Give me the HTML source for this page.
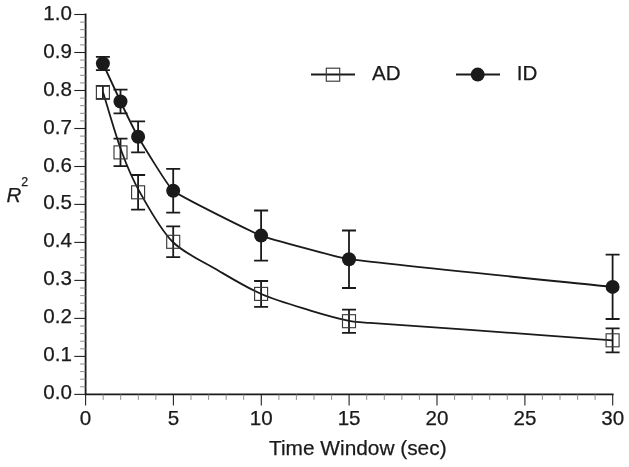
<!DOCTYPE html>
<html><head><meta charset="utf-8"><title>R2 vs Time Window</title>
<style>html,body{margin:0;padding:0;background:#fff}svg{display:block}text{font-family:"Liberation Sans",Arial,Helvetica,sans-serif;fill:#1a1a1a;stroke:#1a1a1a;stroke-width:0.25px}</style></head><body>
<svg width="629" height="467" viewBox="0 0 629 467">
<rect width="629" height="467" fill="#fff"/>
<g stroke="#1a1a1a" stroke-width="1.8" fill="none">
<path d="M85.6 13.6V394.4H613.6"/>
</g>
<g stroke="#222" stroke-width="1.1">
<line x1="74.3" y1="394.4" x2="85.6" y2="394.4"/>
<line x1="74.3" y1="356.4" x2="85.6" y2="356.4"/>
<line x1="74.3" y1="318.4" x2="85.6" y2="318.4"/>
<line x1="74.3" y1="280.4" x2="85.6" y2="280.4"/>
<line x1="74.3" y1="242.4" x2="85.6" y2="242.4"/>
<line x1="74.3" y1="204.4" x2="85.6" y2="204.4"/>
<line x1="74.3" y1="166.5" x2="85.6" y2="166.5"/>
<line x1="74.3" y1="128.5" x2="85.6" y2="128.5"/>
<line x1="74.3" y1="90.5" x2="85.6" y2="90.5"/>
<line x1="74.3" y1="52.5" x2="85.6" y2="52.5"/>
<line x1="74.3" y1="14.5" x2="85.6" y2="14.5"/>
<line x1="85.6" y1="394.4" x2="85.6" y2="405.6"/>
<line x1="173.4" y1="394.4" x2="173.4" y2="405.6"/>
<line x1="261.3" y1="394.4" x2="261.3" y2="405.6"/>
<line x1="349.1" y1="394.4" x2="349.1" y2="405.6"/>
<line x1="437.0" y1="394.4" x2="437.0" y2="405.6"/>
<line x1="524.9" y1="394.4" x2="524.9" y2="405.6"/>
<line x1="612.7" y1="394.4" x2="612.7" y2="405.6"/>
</g>
<g stroke="#808080" stroke-width="0.9">
<line x1="80.1" y1="386.8" x2="85.6" y2="386.8"/>
<line x1="80.1" y1="379.2" x2="85.6" y2="379.2"/>
<line x1="80.1" y1="371.6" x2="85.6" y2="371.6"/>
<line x1="80.1" y1="364.0" x2="85.6" y2="364.0"/>
<line x1="80.1" y1="348.8" x2="85.6" y2="348.8"/>
<line x1="80.1" y1="341.2" x2="85.6" y2="341.2"/>
<line x1="80.1" y1="333.6" x2="85.6" y2="333.6"/>
<line x1="80.1" y1="326.0" x2="85.6" y2="326.0"/>
<line x1="80.1" y1="310.8" x2="85.6" y2="310.8"/>
<line x1="80.1" y1="303.2" x2="85.6" y2="303.2"/>
<line x1="80.1" y1="295.6" x2="85.6" y2="295.6"/>
<line x1="80.1" y1="288.0" x2="85.6" y2="288.0"/>
<line x1="80.1" y1="272.8" x2="85.6" y2="272.8"/>
<line x1="80.1" y1="265.2" x2="85.6" y2="265.2"/>
<line x1="80.1" y1="257.6" x2="85.6" y2="257.6"/>
<line x1="80.1" y1="250.0" x2="85.6" y2="250.0"/>
<line x1="80.1" y1="234.8" x2="85.6" y2="234.8"/>
<line x1="80.1" y1="227.2" x2="85.6" y2="227.2"/>
<line x1="80.1" y1="219.6" x2="85.6" y2="219.6"/>
<line x1="80.1" y1="212.0" x2="85.6" y2="212.0"/>
<line x1="80.1" y1="196.9" x2="85.6" y2="196.9"/>
<line x1="80.1" y1="189.3" x2="85.6" y2="189.3"/>
<line x1="80.1" y1="181.7" x2="85.6" y2="181.7"/>
<line x1="80.1" y1="174.1" x2="85.6" y2="174.1"/>
<line x1="80.1" y1="158.9" x2="85.6" y2="158.9"/>
<line x1="80.1" y1="151.3" x2="85.6" y2="151.3"/>
<line x1="80.1" y1="143.7" x2="85.6" y2="143.7"/>
<line x1="80.1" y1="136.1" x2="85.6" y2="136.1"/>
<line x1="80.1" y1="120.9" x2="85.6" y2="120.9"/>
<line x1="80.1" y1="113.3" x2="85.6" y2="113.3"/>
<line x1="80.1" y1="105.7" x2="85.6" y2="105.7"/>
<line x1="80.1" y1="98.1" x2="85.6" y2="98.1"/>
<line x1="80.1" y1="82.9" x2="85.6" y2="82.9"/>
<line x1="80.1" y1="75.3" x2="85.6" y2="75.3"/>
<line x1="80.1" y1="67.7" x2="85.6" y2="67.7"/>
<line x1="80.1" y1="60.1" x2="85.6" y2="60.1"/>
<line x1="80.1" y1="44.9" x2="85.6" y2="44.9"/>
<line x1="80.1" y1="37.3" x2="85.6" y2="37.3"/>
<line x1="80.1" y1="29.7" x2="85.6" y2="29.7"/>
<line x1="80.1" y1="22.1" x2="85.6" y2="22.1"/>
<line x1="103.2" y1="394.4" x2="103.2" y2="399.9"/>
<line x1="120.7" y1="394.4" x2="120.7" y2="399.9"/>
<line x1="138.3" y1="394.4" x2="138.3" y2="399.9"/>
<line x1="155.9" y1="394.4" x2="155.9" y2="399.9"/>
<line x1="191.0" y1="394.4" x2="191.0" y2="399.9"/>
<line x1="208.6" y1="394.4" x2="208.6" y2="399.9"/>
<line x1="226.2" y1="394.4" x2="226.2" y2="399.9"/>
<line x1="243.7" y1="394.4" x2="243.7" y2="399.9"/>
<line x1="278.9" y1="394.4" x2="278.9" y2="399.9"/>
<line x1="296.4" y1="394.4" x2="296.4" y2="399.9"/>
<line x1="314.0" y1="394.4" x2="314.0" y2="399.9"/>
<line x1="331.6" y1="394.4" x2="331.6" y2="399.9"/>
<line x1="366.7" y1="394.4" x2="366.7" y2="399.9"/>
<line x1="384.3" y1="394.4" x2="384.3" y2="399.9"/>
<line x1="401.9" y1="394.4" x2="401.9" y2="399.9"/>
<line x1="419.4" y1="394.4" x2="419.4" y2="399.9"/>
<line x1="454.6" y1="394.4" x2="454.6" y2="399.9"/>
<line x1="472.1" y1="394.4" x2="472.1" y2="399.9"/>
<line x1="489.7" y1="394.4" x2="489.7" y2="399.9"/>
<line x1="507.3" y1="394.4" x2="507.3" y2="399.9"/>
<line x1="542.4" y1="394.4" x2="542.4" y2="399.9"/>
<line x1="560.0" y1="394.4" x2="560.0" y2="399.9"/>
<line x1="577.6" y1="394.4" x2="577.6" y2="399.9"/>
<line x1="595.1" y1="394.4" x2="595.1" y2="399.9"/>
</g>
<g font-size="20.6" text-anchor="end">
<text x="71.9" y="399.4">0.0</text>
<text x="71.9" y="361.4">0.1</text>
<text x="71.9" y="323.4">0.2</text>
<text x="71.9" y="285.4">0.3</text>
<text x="71.9" y="247.4">0.4</text>
<text x="71.9" y="209.4">0.5</text>
<text x="71.9" y="171.5">0.6</text>
<text x="71.9" y="133.5">0.7</text>
<text x="71.9" y="95.5">0.8</text>
<text x="71.9" y="57.5">0.9</text>
<text x="71.9" y="19.5">1.0</text>
</g>
<g font-size="20.6" text-anchor="middle">
<text x="85.6" y="424.6">0</text>
<text x="173.4" y="424.6">5</text>
<text x="261.3" y="424.6">10</text>
<text x="349.1" y="424.6">15</text>
<text x="437.0" y="424.6">20</text>
<text x="524.9" y="424.6">25</text>
<text x="612.7" y="424.6">30</text>
</g>
<text x="357.8" y="455" font-size="20.85" text-anchor="middle">Time Window (sec)</text>
<text x="6.5" y="202.4" font-size="20.6" font-style="italic">R</text>
<text x="21.3" y="185.7" font-size="12.4">2</text>
<path d="M103.0 92.3C108.7 110.3 115.4 134.6 121.9 152.3C126.4 164.6 133.3 180.7 139.8 192.1C148.7 207.7 160.1 229.3 172.8 242.0C184.1 253.3 204.1 262.2 217.8 270.3C230.6 277.8 247.6 288.1 261.2 294.0C275.5 300.2 295.6 306.0 310.5 310.6C322.0 314.1 337.4 318.5 349.2 320.9C355.3 322.2 363.7 322.4 370.0 322.9C400.0 325.1 440.0 327.7 470.0 329.9C512.8 333.0 569.8 337.2 612.5 340.4" fill="none" stroke="#1a1a1a" stroke-width="1.8" stroke-linejoin="round"/>
<path d="M102.9 63.5C104.7 67.3 118.7 97.7 120.5 101.5C122.2 105.1 136.1 133.4 138.1 136.8C141.3 142.4 168.2 186.7 173.2 190.8C180.9 196.9 251.9 232.0 261.1 235.6C269.6 238.9 340.0 257.9 349.0 259.2C375.2 263.1 586.2 284.1 612.6 286.9" fill="none" stroke="#1a1a1a" stroke-width="1.8" stroke-linejoin="round"/>
<g stroke="#1a1a1a" stroke-width="1.8" fill="none">
<path d="M95.9 85.9H109.9M102.9 85.9V98.8M95.9 98.8H109.9"/>
<path d="M113.5 138.7H127.5M120.5 138.7V166.1M113.5 166.1H127.5"/>
<path d="M131.1 175.0H145.1M138.1 175.0V209.6M131.1 209.6H145.1"/>
<path d="M166.2 226.4H180.2M173.2 226.4V257.2M166.2 257.2H180.2"/>
<path d="M254.1 281.0H268.1M261.1 281.0V306.8M254.1 306.8H268.1"/>
<path d="M342.0 309.7H356.0M349.0 309.7V332.8M342.0 332.8H356.0"/>
<path d="M605.6 328.3H619.6M612.6 328.3V352.3M605.6 352.3H619.6"/>
<path d="M95.9 56.9H109.9M102.9 56.9V70.2M95.9 70.2H109.9"/>
<path d="M113.5 89.7H127.5M120.5 89.7V113.3M113.5 113.3H127.5"/>
<path d="M131.1 121.3H145.1M138.1 121.3V152.4M131.1 152.4H145.1"/>
<path d="M166.2 168.9H180.2M173.2 168.9V212.7M166.2 212.7H180.2"/>
<path d="M254.1 210.5H268.1M261.1 210.5V260.7M254.1 260.7H268.1"/>
<path d="M342.0 230.5H356.0M349.0 230.5V288.0M342.0 288.0H356.0"/>
<path d="M605.6 254.7H619.6M612.6 254.7V319.0M605.6 319.0H619.6"/>
</g>
<g fill="none" stroke="#3a3a3a" stroke-width="1.15">
<rect x="96.4" y="85.9" width="13" height="13"/>
<rect x="114.0" y="145.9" width="13" height="13"/>
<rect x="131.6" y="185.8" width="13" height="13"/>
<rect x="166.7" y="235.3" width="13" height="13"/>
<rect x="254.6" y="287.4" width="13" height="13"/>
<rect x="342.5" y="314.7" width="13" height="13"/>
<rect x="606.1" y="333.8" width="13" height="13"/>
</g>
<g fill="#1a1a1a">
<circle cx="102.9" cy="63.5" r="7"/>
<circle cx="120.5" cy="101.5" r="7"/>
<circle cx="138.1" cy="136.8" r="7"/>
<circle cx="173.2" cy="190.8" r="7"/>
<circle cx="261.1" cy="235.6" r="7"/>
<circle cx="349.0" cy="259.2" r="7"/>
<circle cx="612.6" cy="286.9" r="7"/>
</g>
<g stroke="#1a1a1a" stroke-width="1.8"><line x1="311" y1="74.5" x2="355" y2="74.5"/><line x1="456" y1="74.5" x2="500" y2="74.5"/></g>
<rect x="326.3" y="68.2" width="13.4" height="13" fill="none" stroke="#3a3a3a" stroke-width="1.15"/>
<circle cx="477.7" cy="74.6" r="7" fill="#1a1a1a"/>
<text x="372" y="80.2" font-size="20.6">AD</text>
<text x="516.8" y="80.2" font-size="20.6">ID</text>
</svg></body></html>
